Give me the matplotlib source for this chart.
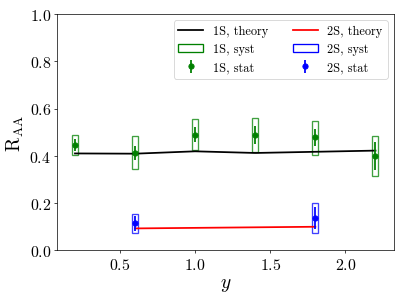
import matplotlib
matplotlib.use("Agg")
import matplotlib.pyplot as plt
from matplotlib.patches import Rectangle, Patch
import numpy as np

plt.rcParams['font.family'] = 'serif'
plt.rcParams['font.serif'] = ['cmr10']
plt.rcParams['mathtext.fontset'] = 'cm'
plt.rcParams['axes.formatter.use_mathtext'] = True

# 1S data
y_1s = [0.2, 0.6, 1.0, 1.4, 1.8, 2.2]
raa_1s = [0.446, 0.412, 0.489, 0.489, 0.479, 0.398]
stat_1s = [0.025, 0.030, 0.032, 0.037, 0.036, 0.060]
syst_lo_1s = [0.402, 0.344, 0.423, 0.415, 0.405, 0.313]
syst_hi_1s = [0.487, 0.482, 0.554, 0.561, 0.549, 0.482]
theory_1s = [0.410, 0.409, 0.419, 0.412, 0.417, 0.422]

# 2S data
y_2s = [0.6, 1.8]
raa_2s = [0.114, 0.137]
stat_2s = [0.032, 0.047]
syst_lo_2s = [0.073, 0.072]
syst_hi_2s = [0.152, 0.200]
theory_2s = [0.093, 0.100]

BOX_W = 0.04

fig = plt.figure(figsize=(6.4, 4.792), dpi=63.4375)
ax = fig.add_subplot(111)
fig.subplots_adjust(left=0.141, right=0.970, bottom=0.173, top=0.951)

ax.plot(y_1s, theory_1s, color='black', lw=2, label='1S, theory')
ax.plot(y_2s, theory_2s, color='red', lw=2, label='2S, theory')

for x, lo, hi in zip(y_1s, syst_lo_1s, syst_hi_1s):
    ax.add_patch(Rectangle((x - BOX_W / 2, lo), BOX_W, hi - lo, fill=False,
                           edgecolor='green', lw=1.5, alpha=0.75))
for x, lo, hi in zip(y_2s, syst_lo_2s, syst_hi_2s):
    ax.add_patch(Rectangle((x - BOX_W / 2, lo), BOX_W, hi - lo, fill=False,
                           edgecolor='blue', lw=1.5, alpha=0.75))

eb1 = ax.errorbar(y_1s, raa_1s, yerr=stat_1s, fmt='o', color='green', ms=6, lw=2,
                  capsize=0, label='1S, stat')
eb2 = ax.errorbar(y_2s, raa_2s, yerr=stat_2s, fmt='o', color='blue', ms=6, lw=2,
                  capsize=0, label='2S, stat')

h1, = ax.plot([], [], color='black', lw=2)
h2, = ax.plot([], [], color='red', lw=2)
p1 = Patch(facecolor='none', edgecolor='green', lw=1.5)
p2 = Patch(facecolor='none', edgecolor='blue', lw=1.5)
ax.legend([h1, p1, eb1, h2, p2, eb2],
          ['1S, theory', '1S, syst', '1S, stat', '2S, theory', '2S, syst', '2S, stat'],
          ncol=2, loc='upper right', fontsize=14)

ax.set_xlim(0.082, 2.322)
ax.set_ylim(0, 1.0)
ax.set_xticks([0.5, 1.0, 1.5, 2.0])
ax.tick_params(labelsize=18)
ax.set_xlabel('$y$', fontsize=22)
ax.set_ylabel(r'$\mathrm{R_{AA}}$', fontsize=22)

fig.savefig('out.png', dpi=63.4375)
